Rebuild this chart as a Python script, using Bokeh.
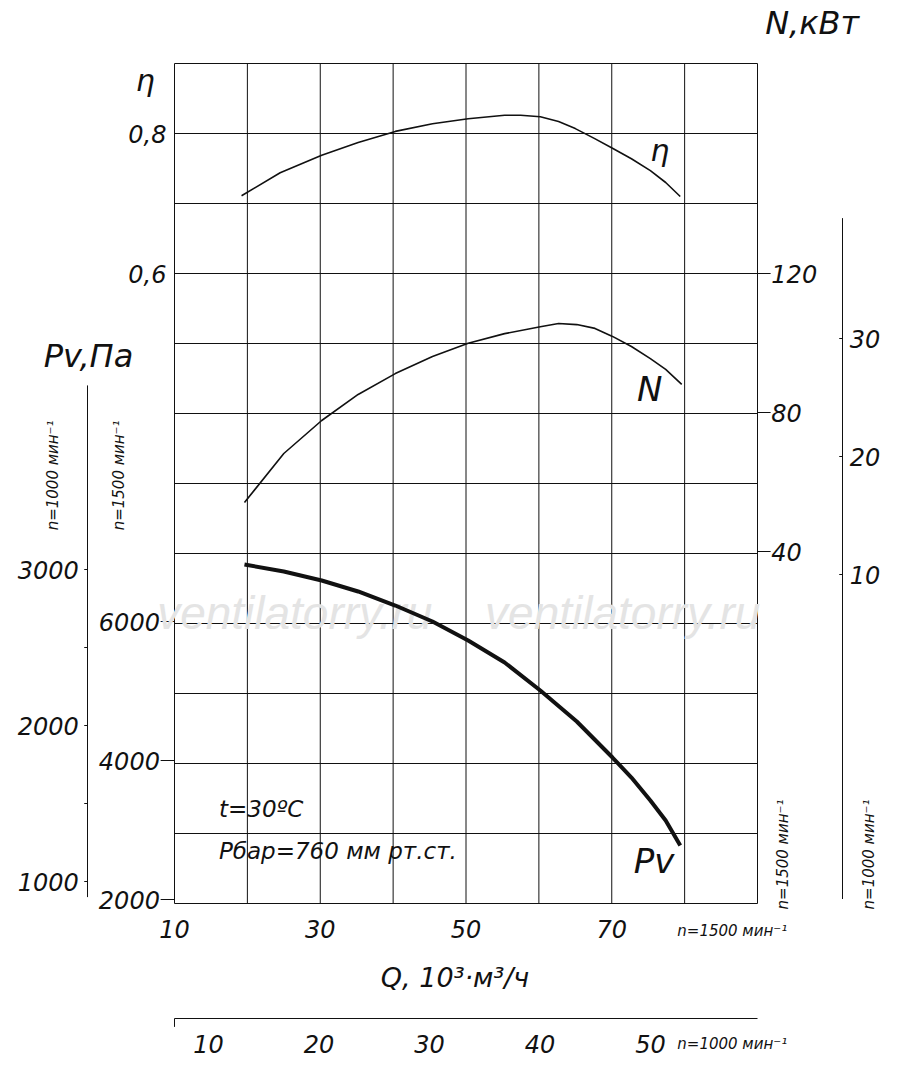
from bokeh.plotting import figure
from bokeh.models import Range1d
from bokeh.embed import file_html
from bokeh.resources import INLINE
from bokeh.core.properties import value

# ---- data ----
eta_q = [19.2, 24.5, 30.2, 35.2, 40.3, 45.4, 50.3, 55.3, 57.5, 60.2, 62.7, 65.0, 67.6, 70.1, 72.7, 75.3, 77.4, 79.4]
eta_v = [0.711, 0.744, 0.769, 0.787, 0.803, 0.814, 0.821, 0.826, 0.826, 0.824, 0.817, 0.807, 0.793, 0.779, 0.764, 0.747, 0.730, 0.710]
n_q = [19.6, 25.0, 30.2, 35.2, 40.3, 45.4, 50.3, 55.3, 60.2, 62.7, 65.2, 67.7, 70.1, 72.7, 75.3, 77.4, 79.6]
n_v = [54.1, 68.2, 77.7, 85.2, 91.2, 96.1, 99.9, 102.7, 104.7, 105.6, 105.3, 104.2, 101.9, 99.0, 95.5, 92.4, 88.1]
pv_q = [19.6, 25.0, 30.2, 35.2, 40.3, 45.4, 50.3, 55.3, 60.2, 65.2, 70.1, 72.7, 75.3, 77.4, 79.4]
pv_v = [6820, 6719, 6590, 6432, 6230, 6000, 5727, 5410, 5007, 4561, 4043, 3755, 3424, 3137, 2777]
q1500_ticks = [10, 30, 50, 70]
q1000_ticks = [10, 20, 30, 40, 50]
eta_ticks = [0.8, 0.6]
pv1500_ticks = [6000, 4000, 2000]
pv1000_ticks = [3000, 2000, 1000]
pv1000_minor = [2500, 1500]
n1500_ticks = [120, 80, 40]
n1000_ticks = [30, 20, 10]

W, H = 890, 1058
TOP, BOT, LEFT, RIGHT = 0, H, 0, W

def yr(v0, py0, ppu):
    return Range1d(start=v0 - (BOT - py0) / ppu, end=v0 + (py0 - TOP) / ppu)

def xr(v0, px0, ppu):
    return Range1d(start=v0 - (px0 - LEFT) / ppu, end=v0 + (RIGHT - px0) / ppu)

XPPU = 583 / 80
p = figure(width=W, height=H, output_backend="svg", toolbar_location=None,
           x_range=xr(10, 174, XPPU), y_range=yr(0.8, 133, 700),
           min_border=0, outline_line_color=None)
p.axis.visible = False
p.grid.visible = False
p.extra_y_ranges = {"pv15": yr(2000, 899, 139 / 2000), "pv10": yr(1000, 881, 0.156),
                    "n15": yr(40, 551, 3.475), "n10": yr(10, 574, 11.8)}
p.extra_x_ranges = {"q10": xr(10, 208, 11.05)}

F = value("DejaVu Sans")
BLK = "#111111"
BIG = "24px"
SMALL = "15px"
gy = [0.9 - 0.1 * i for i in range(13)]
gx = [10 + 10 * i for i in range(9)]
p.segment(x0=[10] * 13, x1=[90] * 13, y0=gy, y1=gy, line_color=BLK, line_width=1)
p.segment(x0=gx, x1=gx, y0=[0.9] * 9, y1=[-0.3] * 9, line_color=BLK, line_width=1)

def txt(x, y, t, size=BIG, align="center", **kw):
    p.text(x=x, y=y, text=t, text_font=F, text_font_size=size, text_font_style="italic",
           text_align=align, text_baseline="middle", text_color=BLK, **kw)

# eta
txt([8.9] * 2, eta_ticks, ["0,8", "0,6"], align="right")
txt([6.0], [0.8 - (80 - 133) / 700], ["η"], size="30px")

# Pv 1500 axis (frame left edge)
p.segment(x0=[8.1] * 3, x1=[10] * 3, y0=pv1500_ticks, y1=pv1500_ticks, y_range_name="pv15", line_color=BLK)
txt([8.0] * 3, pv1500_ticks, [str(t) for t in pv1500_ticks], align="right", y_range_name="pv15")
# Pv 1000 axis
ax_x = 10 - (174 - 87) / XPPU
p.segment(x0=[ax_x], x1=[ax_x], y0=[4180], y1=[900], y_range_name="pv10", line_color=BLK)
tk = pv1000_ticks + pv1000_minor
p.segment(x0=[ax_x - 0.45] * 5, x1=[ax_x] * 5, y0=tk, y1=tk, y_range_name="pv10", line_color=BLK)
txt([ax_x - 1.2] * 3, pv1000_ticks, [str(t) for t in pv1000_ticks], align="right", y_range_name="pv10")
txt([-1.8], [0.8 - (355 - 133) / 700], ["Pv,Па"], size="32px")
p.text(x=[-6.7, 2.4], y=[0.39, 0.39], text=["n=1000 мин⁻¹", "n=1500 мин⁻¹"], angle=1.5708,
       text_font=F, text_font_size=SMALL, text_font_style="italic", text_align="right",
       text_baseline="middle", text_color=BLK)

# N 1500 axis
p.segment(x0=[90] * 3, x1=[91.8] * 3, y0=n1500_ticks, y1=n1500_ticks, y_range_name="n15", line_color=BLK)
txt([91.9] * 3, n1500_ticks, [str(t) for t in n1500_ticks], align="left", y_range_name="n15")
nx = 10 + (842 - 174) / XPPU
p.segment(x0=[nx], x1=[nx], y0=[40.2], y1=[-17.5], y_range_name="n10", line_color=BLK)
p.segment(x0=[nx - 0.45] * 3, x1=[nx] * 3, y0=n1000_ticks, y1=n1000_ticks, y_range_name="n10", line_color=BLK)
txt([nx + 1.0] * 3, n1000_ticks, [str(t) for t in n1000_ticks], align="left", y_range_name="n10")
txt([97.5], [0.8 - (22 - 133) / 700], ["N,кВт"], size="32px")
p.text(x=[93.5, 105.3], y=[-0.23, -0.23], text=["n=1500 мин⁻¹", "n=1000 мин⁻¹"], angle=1.5708,
       text_font=F, text_font_size=SMALL, text_font_style="italic", text_align="center",
       text_baseline="middle", text_color=BLK)

# bottom axes
txt(q1500_ticks, [0.8 - (928 - 133) / 700] * 4, [str(t) for t in q1500_ticks])
txt([79.0], [0.8 - (930 - 133) / 700], ["n=1500 мин⁻¹"], size=SMALL, align="left")
txt([48.5], [0.8 - (977 - 133) / 700], ["Q, 10³·м³/ч"], size="27px")
ly = 0.8 - (1018 - 133) / 700
p.segment(x0=[10], x1=[90], y0=[ly], y1=[ly], line_color=BLK)
p.segment(x0=[10], x1=[10], y0=[ly], y1=[ly - 0.012], line_color=BLK)
txt(q1000_ticks, [0.8 - (1043 - 133) / 700] * 5, [str(t) for t in q1000_ticks], x_range_name="q10")
txt([79.0], [0.8 - (1043 - 133) / 700], ["n=1000 мин⁻¹"], size=SMALL, align="left")

# watermark
p.text(x=[26.5, 71.5], y=[0.8 - (612 - 133) / 700] * 2, text=["ventilatorry.ru"] * 2,
       text_font=value("Liberation Sans"), text_font_size="46px", text_font_style="italic",
       text_align="center", text_baseline="middle", text_color="#e4e4e4")

# curves
p.line(eta_q, eta_v, line_color=BLK, line_width=1.6)
p.line(n_q, n_v, y_range_name="n15", line_color=BLK, line_width=1.6)
p.line(pv_q, pv_v, y_range_name="pv15", line_color=BLK, line_width=4, line_join="round")

txt([76.6], [0.8 - (150 - 133) / 700], ["η"], size="30px")
txt([75.2], [0.8 - (388 - 133) / 700], ["N"], size="34px")
txt([75.8], [0.8 - (860 - 133) / 700], ["Pv"], size="34px")
txt([16.1, 16.1], [0.8 - (808 - 133) / 700, 0.8 - (850 - 133) / 700],
    ["t=30ºC", "Рбар=760 мм рт.ст."], size="23px", align="left")

open("out.html", "w").write(file_html(p, INLINE))
